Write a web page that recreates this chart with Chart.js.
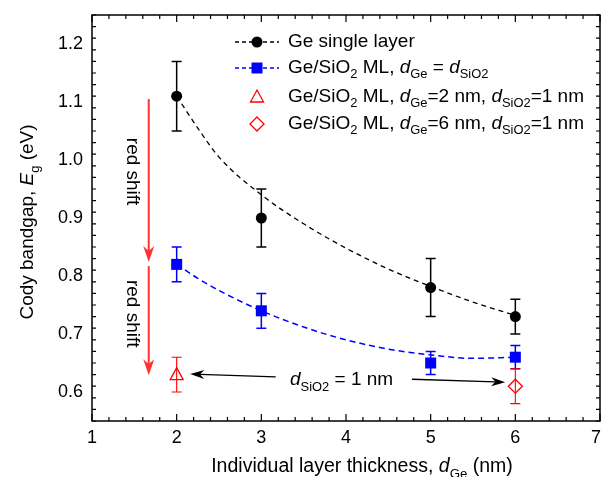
<!DOCTYPE html>
<html>
<head>
<meta charset="utf-8">
<script src="https://cdn.jsdelivr.net/npm/chart.js@4.4.1/dist/chart.umd.min.js"></script>
<style>
  html, body { margin: 0; padding: 0; background: #fff; }
  #wrap { width: 602px; height: 477px; position: relative; }
</style>
</head>
<body>
<div id="wrap"><canvas id="grafico" width="602" height="477"></canvas></div>
<script>
// dados
var espessura = [2, 3, 5, 6];
var gapSingle = [1.11, 0.90, 0.78, 0.73];
var errSingle = [0.06, 0.05, 0.05, 0.03];
var gapML = [0.82, 0.74, 0.65, 0.66];
var errML = [0.03, 0.03, 0.02, 0.02];
var xTri = [2];
var gapTri = [0.63];
var errTri = [0.03];
var xDia = [6];
var gapDia = [0.61];
var errDia = [0.03];

// curvas de ajuste (tracejadas) lidas ponto a ponto
var fitX = [2, 2.25, 2.5, 3, 3.5, 4, 4.5, 5, 5.5, 6];
var fitSingle = [1.11, 1.055, 1.005, 0.94, 0.89, 0.848, 0.812, 0.782, 0.755, 0.732];
var fitML = [0.82, 0.796, 0.775, 0.74, 0.712, 0.69, 0.674, 0.664, 0.658, 0.66];

var xTicks = [1, 2, 3, 4, 5, 6, 7];
var yTicks = [0.6, 0.7, 0.8, 0.9, 1.0, 1.1, 1.2];

var FONT = '"Liberation Sans", Arial, sans-serif';

function pts(xs, ys) {
  var out = [];
  for (var i = 0; i < xs.length; i++) out.push({ x: xs[i], y: ys[i] });
  return out;
}

// texto com subscrito / italico
function richText(ctx, parts, x, y, size) {
  var cx = x;
  for (var i = 0; i < parts.length; i++) {
    var p = parts[i];
    var s = p.sub ? size * 0.68 : size;
    ctx.font = (p.it ? 'italic ' : '') + s + 'px ' + FONT;
    ctx.fillText(p.t, cx, y + (p.sub ? size * 0.32 : 0));
    cx += ctx.measureText(p.t).width;
  }
  return cx;
}

function drawMarker(ctx, tipo, x, y) {
  ctx.save();
  if (tipo == 'circle') {
    ctx.fillStyle = '#000';
    ctx.beginPath(); ctx.arc(x, y, 5.5, 0, Math.PI * 2); ctx.fill();
  } else if (tipo == 'square') {
    ctx.fillStyle = '#0000ff';
    ctx.fillRect(x - 5.5, y - 5.5, 11, 11);
  } else if (tipo == 'tri') {
    ctx.strokeStyle = '#ff0000'; ctx.lineWidth = 1.3;
    ctx.beginPath(); ctx.moveTo(x, y - 7); ctx.lineTo(x + 6.5, y + 5); ctx.lineTo(x - 6.5, y + 5); ctx.closePath(); ctx.stroke();
  } else if (tipo == 'dia') {
    ctx.strokeStyle = '#ff0000'; ctx.lineWidth = 1.3;
    ctx.beginPath(); ctx.moveTo(x, y - 7); ctx.lineTo(x + 7, y); ctx.lineTo(x, y + 7); ctx.lineTo(x - 7, y); ctx.closePath(); ctx.stroke();
  }
  ctx.restore();
}

function arrow(ctx, x1, y1, x2, y2, cor, lw, headLen, headW) {
  var ang = Math.atan2(y2 - y1, x2 - x1);
  ctx.save();
  ctx.strokeStyle = cor; ctx.fillStyle = cor; ctx.lineWidth = lw;
  ctx.beginPath();
  ctx.moveTo(x1, y1);
  ctx.lineTo(x2 - Math.cos(ang) * headLen * 0.7, y2 - Math.sin(ang) * headLen * 0.7);
  ctx.stroke();
  ctx.translate(x2, y2); ctx.rotate(ang);
  ctx.beginPath();
  ctx.moveTo(0, 0);
  ctx.lineTo(-headLen, -headW / 2);
  ctx.lineTo(-headLen * 0.7, 0);
  ctx.lineTo(-headLen, headW / 2);
  ctx.closePath(); ctx.fill();
  ctx.restore();
}

var errorBars = {
  id: 'errorBars',
  beforeDatasetsDraw: function (chart) {
    var ctx = chart.ctx, sx = chart.scales.x, sy = chart.scales.y;
    var grupos = [
      [espessura, gapSingle, errSingle, '#000', 1.5],
      [espessura, gapML, errML, '#0000ff', 1.5],
      [xTri, gapTri, errTri, '#ff0000', 1.1],
      [xDia, gapDia, errDia, '#ff0000', 1.1]
    ];
    ctx.save();
    grupos.forEach(function (g) {
      ctx.strokeStyle = g[3]; ctx.lineWidth = g[4];
      for (var i = 0; i < g[0].length; i++) {
        var px = sx.getPixelForValue(g[0][i]);
        var top = sy.getPixelForValue(g[1][i] + g[2][i]);
        var bot = sy.getPixelForValue(g[1][i] - g[2][i]);
        ctx.beginPath();
        ctx.moveTo(px, top); ctx.lineTo(px, bot);
        ctx.moveTo(px - 5, top); ctx.lineTo(px + 5, top);
        ctx.moveTo(px - 5, bot); ctx.lineTo(px + 5, bot);
        ctx.stroke();
      }
    });
    ctx.restore();
  }
};

var moldura = {
  id: 'moldura',
  afterDatasetsDraw: function (chart) {
    var ctx = chart.ctx, sx = chart.scales.x, sy = chart.scales.y, a = chart.chartArea;

    // marcadores por cima das barras de erro
    for (var i = 0; i < espessura.length; i++) {
      drawMarker(ctx, 'circle', sx.getPixelForValue(espessura[i]), sy.getPixelForValue(gapSingle[i]));
      drawMarker(ctx, 'square', sx.getPixelForValue(espessura[i]), sy.getPixelForValue(gapML[i]));
    }
    drawMarker(ctx, 'tri', sx.getPixelForValue(xTri[0]), sy.getPixelForValue(gapTri[0]));
    drawMarker(ctx, 'dia', sx.getPixelForValue(xDia[0]), sy.getPixelForValue(gapDia[0]));

    // setas vermelhas "red shift"
    var ax = sx.getPixelForValue(1.67);
    arrow(ctx, ax, sy.getPixelForValue(1.105), ax, sy.getPixelForValue(0.824), '#ff3333', 2, 16, 11);
    arrow(ctx, ax, sy.getPixelForValue(0.817), ax, sy.getPixelForValue(0.629), '#ff3333', 2, 16, 11);
    ctx.save();
    ctx.fillStyle = '#000';
    ctx.font = '19px ' + FONT;
    ctx.textAlign = 'center'; ctx.textBaseline = 'middle';
    ctx.translate(ax - 16, sy.getPixelForValue(0.98)); ctx.rotate(Math.PI / 2);
    ctx.fillText('red shift', 0, 0);
    ctx.restore();
    ctx.save();
    ctx.fillStyle = '#000';
    ctx.font = '19px ' + FONT;
    ctx.textAlign = 'center'; ctx.textBaseline = 'middle';
    ctx.translate(ax - 16, sy.getPixelForValue(0.735)); ctx.rotate(Math.PI / 2);
    ctx.fillText('red shift', 0, 0);
    ctx.restore();

    // anotacao dSiO2 = 1 nm
    arrow(ctx, sx.getPixelForValue(3.17), sy.getPixelForValue(0.626), sx.getPixelForValue(2.16), sy.getPixelForValue(0.631), '#000', 1.3, 14, 9);
    arrow(ctx, sx.getPixelForValue(4.78), sy.getPixelForValue(0.622), sx.getPixelForValue(5.88), sy.getPixelForValue(0.617), '#000', 1.3, 14, 9);
    ctx.save();
    ctx.fillStyle = '#000'; ctx.textBaseline = 'alphabetic';
    richText(ctx, [{ t: 'd', it: true }, { t: 'SiO2', sub: true }, { t: ' = 1 nm' }], 290, 385, 19);
    ctx.restore();
  },
  afterDraw: function (chart) {
    var ctx = chart.ctx, sx = chart.scales.x, sy = chart.scales.y, a = chart.chartArea;
    ctx.save();
    ctx.strokeStyle = '#000'; ctx.lineWidth = 1.5;
    ctx.strokeRect(a.left, a.top, a.right - a.left, a.bottom - a.top);

    // ticks para dentro, nos quatro lados
    ctx.lineWidth = 1.2;
    ctx.beginPath();
    for (var k = 0; k <= 30; k++) {
      var v = 1 + k * 0.2;
      var px = sx.getPixelForValue(v);
      var len = (k % 5 == 0) ? 7 : 4;
      ctx.moveTo(px, a.bottom); ctx.lineTo(px, a.bottom - len);
      ctx.moveTo(px, a.top); ctx.lineTo(px, a.top + len);
    }
    for (var m = 0; m <= 35; m++) {
      var vy = 0.55 + m * 0.02;
      var py = sy.getPixelForValue(vy);
      var major = Math.abs(Math.round(vy * 10) / 10 - vy) < 0.001;
      var ly = major ? 7 : 4;
      ctx.moveTo(a.left, py); ctx.lineTo(a.left + ly, py);
      ctx.moveTo(a.right, py); ctx.lineTo(a.right - ly, py);
    }
    ctx.stroke();

    // rotulos dos ticks
    ctx.fillStyle = '#000';
    ctx.font = '18px ' + FONT;
    ctx.textAlign = 'center'; ctx.textBaseline = 'middle';
    xTicks.forEach(function (t) {
      ctx.fillText(String(t), Math.min(sx.getPixelForValue(t), 596), a.bottom + 17);
    });
    ctx.textAlign = 'right';
    yTicks.forEach(function (t) {
      ctx.fillText(t.toFixed(1), a.left - 9, sy.getPixelForValue(t));
    });

    // titulos dos eixos
    ctx.textAlign = 'left'; ctx.textBaseline = 'alphabetic';
    var partsX = [{ t: 'Individual layer thickness, ' }, { t: 'd', it: true }, { t: 'Ge', sub: true }, { t: ' (nm)' }];
    var wx = richText(ctx, partsX, -1000, -1000, 19.5) + 1000;
    richText(ctx, partsX, 362 - wx / 2, 472, 19.5);

    ctx.save();
    ctx.translate(33, 222); ctx.rotate(-Math.PI / 2);
    var partsY = [{ t: 'Cody bandgap, ' }, { t: 'E', it: true }, { t: 'g', sub: true }, { t: ' (eV)' }];
    var wy = richText(ctx, partsY, -1000, -1000, 19) + 1000;
    richText(ctx, partsY, -wy / 2, 0, 19);
    ctx.restore();

    // legenda
    var rows = [42, 68, 97, 124];
    ctx.lineWidth = 1.3;
    ctx.setLineDash([4, 3]);
    ctx.strokeStyle = '#000';
    ctx.beginPath(); ctx.moveTo(235, rows[0]); ctx.lineTo(279, rows[0]); ctx.stroke();
    ctx.strokeStyle = '#0000ff'; ctx.lineWidth = 1.5;
    ctx.beginPath(); ctx.moveTo(235, rows[1]); ctx.lineTo(279, rows[1]); ctx.stroke();
    ctx.setLineDash([]);
    drawMarker(ctx, 'circle', 257, rows[0]);
    drawMarker(ctx, 'square', 257, rows[1]);
    drawMarker(ctx, 'tri', 257, rows[2]);
    drawMarker(ctx, 'dia', 257, rows[3]);
    ctx.fillStyle = '#000';
    ctx.textBaseline = 'middle';
    richText(ctx, [{ t: 'Ge single layer' }], 288, rows[0], 19);
    richText(ctx, [{ t: 'Ge/SiO' }, { t: '2', sub: true }, { t: ' ML, ' }, { t: 'd', it: true }, { t: 'Ge', sub: true }, { t: ' = ' }, { t: 'd', it: true }, { t: 'SiO2', sub: true }], 288, rows[1], 19);
    richText(ctx, [{ t: 'Ge/SiO' }, { t: '2', sub: true }, { t: ' ML, ' }, { t: 'd', it: true }, { t: 'Ge', sub: true }, { t: '=2 nm, ' }, { t: 'd', it: true }, { t: 'SiO2', sub: true }, { t: '=1 nm' }], 288, rows[2], 19);
    richText(ctx, [{ t: 'Ge/SiO' }, { t: '2', sub: true }, { t: ' ML, ' }, { t: 'd', it: true }, { t: 'Ge', sub: true }, { t: '=6 nm, ' }, { t: 'd', it: true }, { t: 'SiO2', sub: true }, { t: '=1 nm' }], 288, rows[3], 19);
    ctx.restore();
  }
};

var ctxGrafico = document.getElementById('grafico').getContext('2d');

var grafico = new Chart(ctxGrafico, {
  type: 'line',
  data: {
    datasets: [
      {
        label: 'fit single',
        data: pts(fitX, fitSingle),
        borderColor: '#000',
        borderWidth: 1.3,
        borderDash: [5, 4],
        pointRadius: 0,
        cubicInterpolationMode: 'monotone',
        fill: false,
      },
      {
        label: 'fit ML',
        data: pts(fitX, fitML),
        borderColor: '#0000ff',
        borderWidth: 1.5,
        borderDash: [6, 4],
        pointRadius: 0,
        cubicInterpolationMode: 'monotone',
        fill: false,
      },
    ],
  },
  options: {
    responsive: false,
    animation: false,
    devicePixelRatio: 1,
    layout: {
      padding: { left: 92, right: 2, top: 15, bottom: 56 },
    },
    plugins: {
      legend: { display: false },
      tooltip: { enabled: false },
    },
    scales: {
      x: { type: 'linear', min: 1, max: 7, display: false },
      y: { type: 'linear', min: 0.55, max: 1.25, display: false },
    },
  },
  plugins: [errorBars, moldura],
});
</script>
</body>
</html>
